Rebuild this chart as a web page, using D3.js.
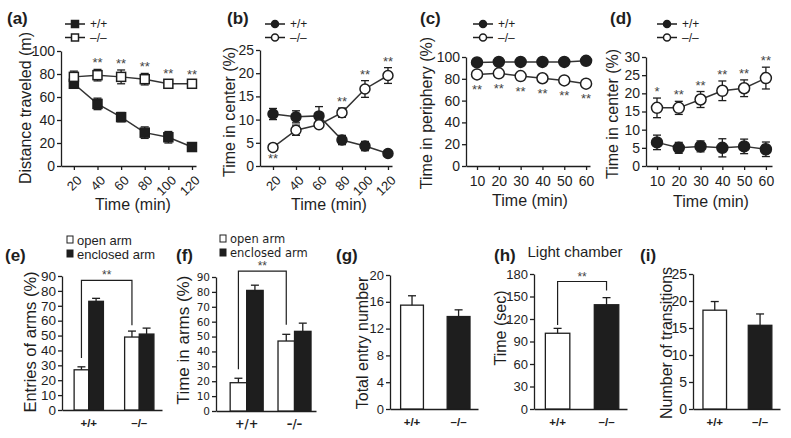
<!DOCTYPE html>
<html>
<head>
<meta charset="utf-8">
<script src="https://cdn.jsdelivr.net/npm/d3@7"></script>
<style>
  body { margin: 0; background: #fff; }
  text { font-family: 'Liberation Sans', Arial, Helvetica, sans-serif; fill: #1e1e1e; }
</style>
</head>
<body>
<div id="chart"></div>
<script>
// ---- data ----
var timeLong   = [20, 40, 60, 80, 100, 120];
var timeShort  = [10, 20, 30, 40, 50, 60];

// (a) distance traveled (m)
var distWT     = [71.5, 54, 42.5, 29, 25, 16.5];
var distWTErr  = [3, 5, 4, 5, 5, 3];
var distKO     = [77.5, 79, 77.5, 75.5, 71.5, 71.5];
var distKOErr  = [5, 5, 6, 5, 3, 2];
var distStars  = ["", "**", "**", "**", "**", "**"];

// (b) time in center (%), open field 120 min
var centerWT    = [11.2, 10.6, 10.8, 5.6, 4.3, 2.7];
var centerWTErr = [1.2, 1.3, 2, 1, 1, 0.6];
var centerKO    = [4.0, 7.7, 8.9, 11.5, 16.6, 19.5];
var centerKOErr = [0.4, 1.1, 0.8, 1, 1.8, 1.7];
var centerStars = ["**", "", "", "**", "**", "**"];

// (c) time in periphery (%)
var periWT     = [95, 95.5, 95.5, 95.5, 95.5, 96.5];
var periWTErr  = [1, 1, 1, 1, 1, 1];
var periKO     = [84, 85, 82.5, 80.5, 78.5, 75.5];
var periKOErr  = [1.5, 1.5, 1.5, 1.5, 1.5, 1.5];
var periStars  = ["**", "**", "**", "**", "**", "**"];

// (d) time in center (%), 60 min
var cen2WT     = [6.5, 5, 5.4, 5, 5.4, 4.6];
var cen2WTErr  = [2, 1.5, 1.5, 2.5, 2, 2];
var cen2KO     = [16, 16, 18.3, 20.7, 21.4, 24.2];
var cen2KOErr  = [2.7, 1.8, 2.2, 2.7, 2.3, 3];
var cen2Stars  = ["*", "**", "**", "**", "**", "**"];

// bottom row
var genotypes  = ["+/+", "\u2013/\u2013"];
var armTypes   = ["open arm", "enclosed arm"];
var entriesOpen    = [27, 49];
var entriesOpenErr = [2, 4];
var entriesEncl    = [73, 51];
var entriesEnclErr = [2, 4];
var entriesBracket = [87, 35, 57];   // top, left foot, right foot

var timeArmOpen    = [19, 47];
var timeArmOpenErr = [3, 4.5];
var timeArmEncl    = [81, 53.5];
var timeArmEnclErr = [3.5, 5.5];
var timeArmBracket = [94, 28, 58];

var totalEntries    = [15.5, 13.8];
var totalEntriesErr = [1.4, 1.0];

var lightTime    = [101, 139];
var lightTimeErr = [6.5, 9.5];
var lightBracket = [170, 112, 158];

var transitions    = [18.3, 15.5];
var transitionsErr = [1.6, 2.1];

// ---- drawing ----
var ink = "#1e1e1e";
var svg = d3.select("#chart").append("svg")
    .attr("width", 791)
    .attr("height", 438);

function styleAxis(ax, size, family) {
    ax.selectAll("path, line").attr("stroke", ink).attr("stroke-width", 1.3);
    ax.selectAll("text").attr("fill", ink).style("font-size", size + "px");
    if (family) ax.selectAll("text").style("font-family", family);
}

function panelLabel(txt, x, y) {
    svg.append("text").attr("x", x).attr("y", y)
        .style("font-size", "17px").style("font-weight", "bold")
        .text(txt);
}

function yTitle(txt, x, y, size) {
    svg.append("text")
        .attr("transform", "translate(" + x + "," + y + ") rotate(-90)")
        .attr("text-anchor", "middle").attr("dy", "0.35em")
        .style("font-size", (size || 16) + "px")
        .text(txt);
}

function drawMarker(g, type, cx, cy, filled, s) {
    if (type == "square") {
        g.append("rect").attr("x", cx - s / 2).attr("y", cy - s / 2)
            .attr("width", s).attr("height", s)
            .attr("fill", filled ? ink : "#fff")
            .attr("stroke", ink).attr("stroke-width", 1.5);
    } else {
        g.append("circle").attr("cx", cx).attr("cy", cy).attr("r", s / 2)
            .attr("fill", filled ? ink : "#fff")
            .attr("stroke", ink).attr("stroke-width", 1.5);
    }
}

function linePanel(c) {
    var g = svg.append("g");
    var x = d3.scaleLinear().domain(c.xDomain).range(c.xRange);
    var y = d3.scaleLinear().domain(c.yDomain).range(c.yRange);

    var ya = g.append("g").attr("transform", "translate(" + c.xRange[0] + ",0)")
        .call(d3.axisLeft(y).tickValues(c.yTicks).tickSize(4).tickPadding(2).tickSizeOuter(0));
    styleAxis(ya, 14);

    var xa = g.append("g").attr("transform", "translate(0," + c.yRange[0] + ")")
        .call(d3.axisBottom(x).tickValues(c.times).tickSize(4).tickPadding(6).tickSizeOuter(0));
    styleAxis(xa, 14);
    if (c.rotate) {
        xa.selectAll("text")
            .style("font-size", "13px")
            .attr("text-anchor", "end")
            .attr("dy", "0.35em")
            .attr("transform", "translate(5,12) rotate(-45)")
            .attr("y", 0).attr("x", 0);
    }

    var series = [
        {vals: c.wt, err: c.wtErr, filled: true},
        {vals: c.ko, err: c.koErr, filled: false}
    ];
    var line = d3.line()
        .x(function(d, i) { return x(c.times[i]); })
        .y(function(d) { return y(d); });

    series.forEach(function(s) {
        g.append("path").datum(s.vals).attr("d", line)
            .attr("fill", "none").attr("stroke", "#333").attr("stroke-width", 1.5);
    });
    series.forEach(function(s) {
        s.vals.forEach(function(v, i) {
            var cx = x(c.times[i]);
            var t = y(v + s.err[i]), b = y(v - s.err[i]);
            g.append("line").attr("x1", cx).attr("x2", cx).attr("y1", t).attr("y2", b)
                .attr("stroke", ink).attr("stroke-width", 1.3);
            [t, b].forEach(function(yy) {
                g.append("line").attr("x1", cx - 4).attr("x2", cx + 4).attr("y1", yy).attr("y2", yy)
                    .attr("stroke", ink).attr("stroke-width", 1.3);
            });
        });
    });
    series.forEach(function(s) {
        s.vals.forEach(function(v, i) {
            drawMarker(g, c.marker, x(c.times[i]), y(v), s.filled, c.msize);
        });
    });

    // significance stars on the knockout series
    c.stars.forEach(function(st, i) {
        if (!st) return;
        var below = c.starsBelow && c.starsBelow[i];
        var yy = below ? y(c.ko[i] - c.koErr[i]) + c.belowOff : y(c.ko[i] + c.koErr[i]) - 2;
        g.append("text").attr("x", x(c.times[i])).attr("y", yy)
            .attr("text-anchor", "middle")
            .style("font-size", "13px").style("fill", "#444")
            .text(st);
    });

    // legend
    [["+/+", true], ["\u2013/\u2013", false]].forEach(function(l, k) {
        var ly = c.legend[1] + k * 13.5;
        g.append("line").attr("x1", c.legend[0]).attr("x2", c.legend[0] + 20)
            .attr("y1", ly).attr("y2", ly).attr("stroke", ink).attr("stroke-width", 1.5);
        drawMarker(g, c.marker, c.legend[0] + 10, ly, l[1], 7);
        g.append("text").attr("x", c.legend[0] + 25).attr("y", ly).attr("dy", "0.35em")
            .style("font-size", "12px").text(l[0]);
    });

    svg.append("text").attr("x", c.xTitle[0]).attr("y", c.xTitle[1])
        .attr("text-anchor", "middle").attr("dy", "0.35em")
        .style("font-size", "16px").text("Time (min)");
    yTitle(c.yTitle, c.yTitlePos[0], c.yTitlePos[1]);
    panelLabel(c.label, c.labelPos[0], c.labelPos[1]);
}

linePanel({
    label: "(a)", labelPos: [7, 24],
    times: timeLong, xDomain: [9.1, 123.4], xRange: [61, 196],
    yDomain: [0, 100], yRange: [166, 51], yTicks: [0, 20, 40, 60, 80, 100],
    wt: distWT, wtErr: distWTErr, ko: distKO, koErr: distKOErr,
    stars: distStars, marker: "square", msize: 9, rotate: true,
    legend: [65, 24], xTitle: [133, 204],
    yTitle: "Distance traveled (m)", yTitlePos: [25, 108]
});

linePanel({
    label: "(b)", labelPos: [227, 24],
    times: timeLong, xDomain: [8.7, 123.5], xRange: [260, 392],
    yDomain: [0, 25], yRange: [166, 50], yTicks: [0, 5, 10, 15, 20, 25],
    wt: centerWT, wtErr: centerWTErr, ko: centerKO, koErr: centerKOErr,
    stars: centerStars, starsBelow: [true], belowOff: 14,
    marker: "circle", msize: 10, rotate: true,
    legend: [265, 24], xTitle: [329, 204],
    yTitle: "Time in center (%)", yTitlePos: [229, 112]
});

linePanel({
    label: "(c)", labelPos: [420, 24],
    times: timeShort, xDomain: [4.95, 61.8], xRange: [466, 590],
    yDomain: [0, 100], yRange: [166, 57], yTicks: [0, 20, 40, 60, 80, 100],
    wt: periWT, wtErr: periWTErr, ko: periKO, koErr: periKOErr,
    stars: periStars, starsBelow: [true, true, true, true, true, true], belowOff: 18,
    marker: "circle", msize: 11,
    legend: [473, 24], xTitle: [530, 200],
    yTitle: "Time in periphery (%)", yTitlePos: [426, 113]
});

linePanel({
    label: "(d)", labelPos: [610, 24],
    times: timeShort, xDomain: [4.95, 62.8], xRange: [646, 772],
    yDomain: [0, 30], yRange: [166, 57], yTicks: [0, 5, 10, 15, 20, 25, 30],
    wt: cen2WT, wtErr: cen2WTErr, ko: cen2KO, koErr: cen2KOErr,
    stars: cen2Stars, marker: "circle", msize: 11,
    legend: [657, 24], xTitle: [711, 201],
    yTitle: "Time in center (%)", yTitlePos: [612, 114]
});

// ---- bar panels ----
function errCap(g, cx, top, base) {
    g.append("line").attr("x1", cx).attr("x2", cx).attr("y1", base).attr("y2", top)
        .attr("stroke", ink).attr("stroke-width", 1.3);
    g.append("line").attr("x1", cx - 4).attr("x2", cx + 4).attr("y1", top).attr("y2", top)
        .attr("stroke", ink).attr("stroke-width", 1.3);
}

function bracket(g, y, x1, x2, vals, stars) {
    var top = y(vals[0]);
    g.append("path")
        .attr("d", "M" + x1 + "," + y(vals[1]) + "V" + top + "H" + x2 + "V" + y(vals[2]))
        .attr("fill", "none").attr("stroke", ink).attr("stroke-width", 1.2);
    g.append("text").attr("x", (x1 + x2) / 2).attr("y", top - 1)
        .attr("text-anchor", "middle").style("font-size", "12px").style("fill", "#444")
        .text(stars);
}

function barPanel(c) {
    var g = svg.append("g");
    var x = d3.scaleBand().domain(genotypes).range(c.xRange)
        .paddingInner(c.padIn).paddingOuter(0.2).align(c.align);
    var y = d3.scaleLinear().domain(c.yDomain).range(c.yRange);

    var ya = g.append("g").attr("transform", "translate(" + c.xRange[0] + ",0)")
        .call(d3.axisLeft(y).tickValues(c.yTicks).tickSize(4).tickPadding(2).tickSizeOuter(0));
    styleAxis(ya, c.tickSize, c.family);
    var xa = g.append("g").attr("transform", "translate(0," + c.yRange[0] + ")")
        .call(d3.axisBottom(x).tickSize(0).tickPadding(9).tickSizeOuter(0));
    styleAxis(xa, 11.5, c.family);
    xa.selectAll("text").style("font-weight", "bold");

    var groups;
    if (c.sub) {
        var xs = d3.scaleBand().domain(armTypes).range([0, x.bandwidth()]);
        groups = [
            {vals: c.sub[0], err: c.sub[1], key: armTypes[0], fill: "#fff"},
            {vals: c.sub[2], err: c.sub[3], key: armTypes[1], fill: ink}
        ];
        groups.forEach(function(s) {
            s.vals.forEach(function(v, i) {
                var bx = x(genotypes[i]) + xs(s.key);
                g.append("rect").attr("x", bx).attr("y", y(v))
                    .attr("width", xs.bandwidth()).attr("height", y(0) - y(v))
                    .attr("fill", s.fill).attr("stroke", ink).attr("stroke-width", 1.3);
                errCap(g, bx + xs.bandwidth() / 2, y(v + s.err[i]), y(v));
            });
        });
        // legend
        armTypes.forEach(function(a, k) {
            var ly = c.legend[1] + k * 14;
            g.append("rect").attr("x", c.legend[0]).attr("y", ly - 4)
                .attr("width", 6).attr("height", 7)
                .attr("fill", k ? ink : "#fff").attr("stroke", ink).attr("stroke-width", 1);
            g.append("text").attr("x", c.legend[0] + 10).attr("y", ly).attr("dy", "0.35em")
                .style("font-size", c.legendSize + "px")
                .style("font-family", c.family || null)
                .text(a);
        });
        bracket(g, y, x(genotypes[0]) + xs(armTypes[0]) + xs.bandwidth() / 2,
            x(genotypes[1]) + xs(armTypes[0]) + xs.bandwidth() / 2, c.bracket, "**");
    } else {
        c.vals.forEach(function(v, i) {
            g.append("rect").attr("x", x(genotypes[i])).attr("y", y(v))
                .attr("width", x.bandwidth()).attr("height", y(0) - y(v))
                .attr("fill", i ? ink : "#fff").attr("stroke", ink).attr("stroke-width", 1.3);
            errCap(g, x(genotypes[i]) + x.bandwidth() / 2, y(v + c.err[i]), y(v));
        });
        if (c.bracket) {
            bracket(g, y, x(genotypes[0]) + x.bandwidth() / 2,
                x(genotypes[1]) + x.bandwidth() / 2, c.bracket, "**");
        }
    }
    yTitle(c.yTitle, c.yTitlePos[0], c.yTitlePos[1], c.titleSize);
    panelLabel(c.label, c.labelPos[0], c.labelPos[1]);
}

barPanel({
    label: "(e)", labelPos: [5, 261],
    xRange: [62, 162], padIn: 0.42, align: 0.6,
    yDomain: [0, 90], yRange: [410, 276], yTicks: d3.range(0, 91, 10), tickSize: 13.5,
    sub: [entriesOpen, entriesOpenErr, entriesEncl, entriesEnclErr],
    bracket: entriesBracket, legend: [67, 240], legendSize: 13,
    yTitle: "Entries of arms (%)", yTitlePos: [30, 342], titleSize: 16.5
});

barPanel({
    label: "(f)", labelPos: [176, 261], family: "'DejaVu Sans', Verdana, sans-serif",
    xRange: [216, 316], padIn: 0.31, align: 0.74,
    yDomain: [0, 90], yRange: [411, 277], yTicks: d3.range(0, 91, 10), tickSize: 10.5,
    sub: [timeArmOpen, timeArmOpenErr, timeArmEncl, timeArmEnclErr],
    bracket: timeArmBracket, legend: [220, 239], legendSize: 11.5,
    yTitle: "Time in arms (%)", yTitlePos: [183, 340], titleSize: 17
});

barPanel({
    label: "(g)", labelPos: [336, 261],
    xRange: [390, 478], padIn: 0.51, align: 0.57,
    yDomain: [0, 20], yRange: [409, 275], yTicks: [0, 4, 8, 12, 16, 20], tickSize: 13,
    vals: totalEntries, err: totalEntriesErr,
    yTitle: "Total entry number", yTitlePos: [362, 343], titleSize: 16
});

barPanel({
    label: "(h)", labelPos: [494, 261],
    xRange: [534, 627], padIn: 0.5, align: 0.58,
    yDomain: [0, 180], yRange: [409, 274], yTicks: [0, 30, 60, 90, 120, 150, 180], tickSize: 13,
    vals: lightTime, err: lightTimeErr, bracket: lightBracket,
    yTitle: "Time (sec)", yTitlePos: [500, 328], titleSize: 16
});
svg.append("text").attr("x", 575).attr("y", 252).attr("dy", "0.35em")
    .attr("text-anchor", "middle").style("font-size", "15px").text("Light chamber");

barPanel({
    label: "(i)", labelPos: [640, 261],
    xRange: [693, 780], padIn: 0.48, align: 0.55,
    yDomain: [0, 25], yRange: [409, 274], yTicks: [0, 5, 10, 15, 20, 25], tickSize: 14,
    vals: transitions, err: transitionsErr,
    yTitle: "Number of transitions", yTitlePos: [666, 343], titleSize: 16
});
</script>
</body>
</html>
